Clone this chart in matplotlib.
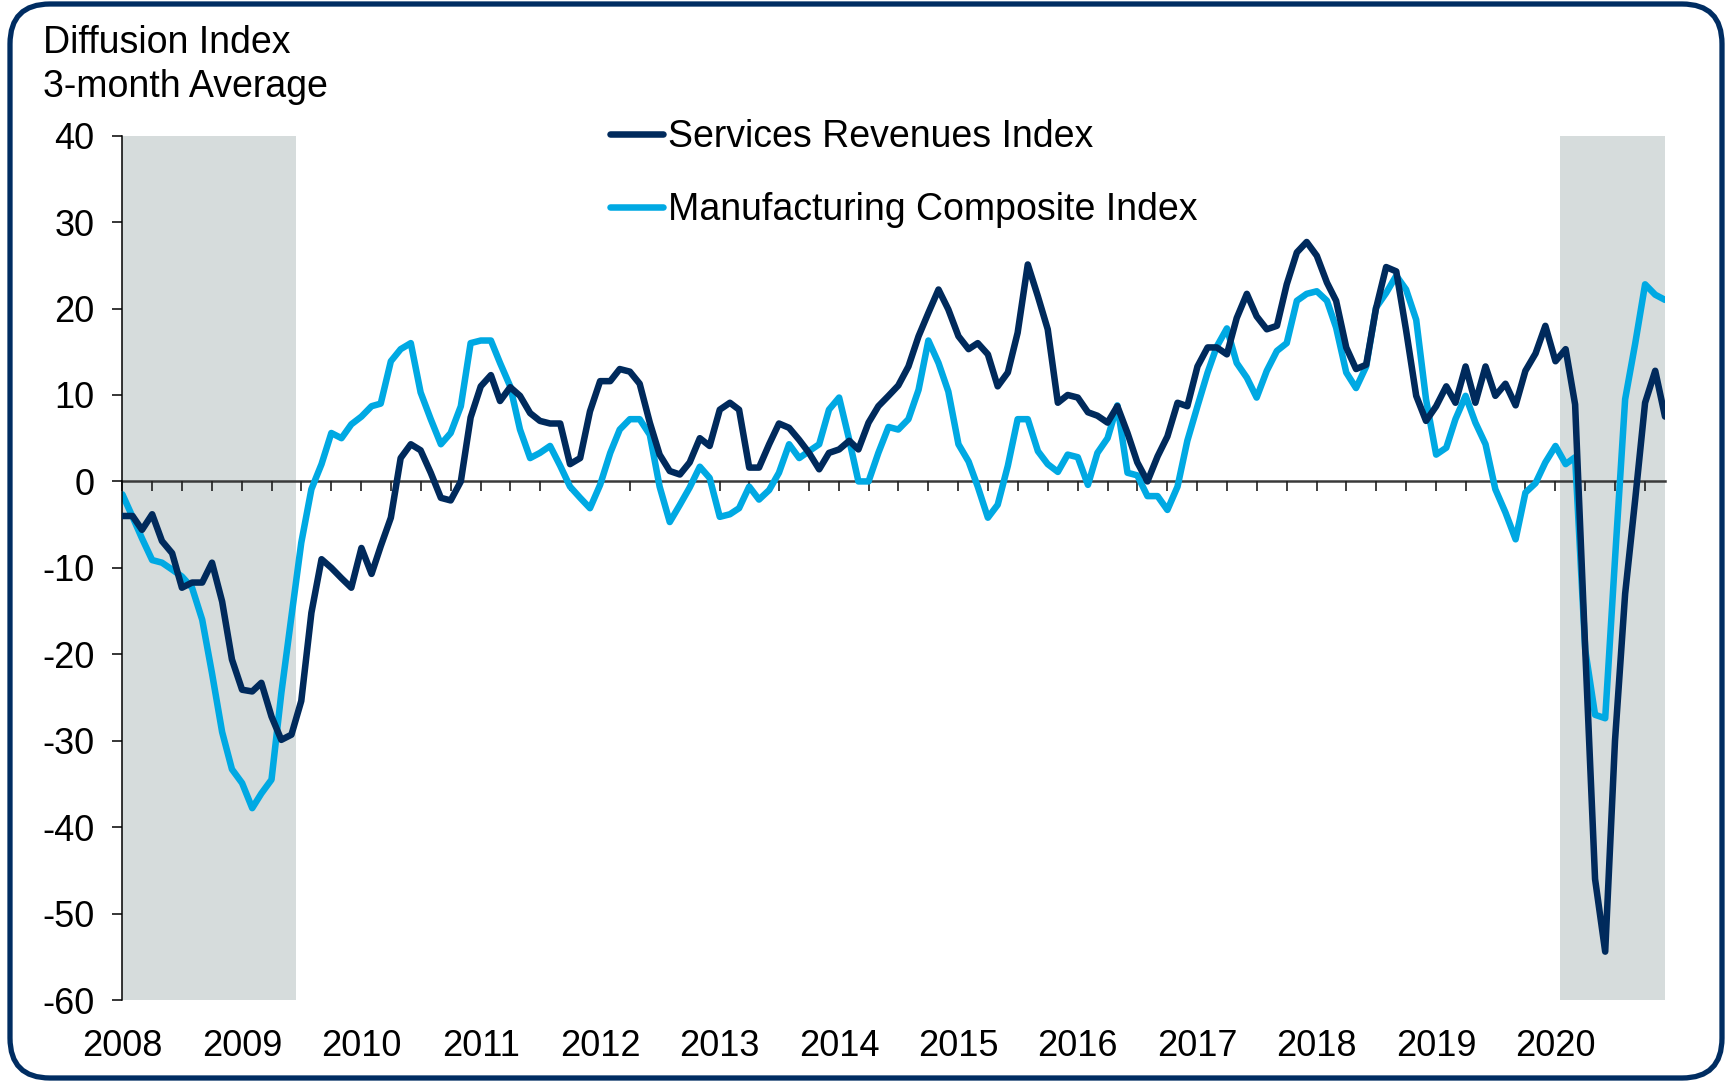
import numpy as np
import pandas as pd
import matplotlib
matplotlib.use("Agg")
import matplotlib.pyplot as plt
import matplotlib.dates as mdates
from matplotlib.patches import FancyBboxPatch
from matplotlib.transforms import IdentityTransform

plt.rcParams['font.family'] = ['Liberation Sans', 'DejaVu Sans']
plt.rcParams['axes.unicode_minus'] = False

## Data (3-month average diffusion indexes, Jan 2008 - Dec 2020)
months = pd.date_range("2008-01-01", "2020-12-01", freq="MS")

services = [
    -4.0, -4.0, -5.6, -3.8, -6.9, -8.3, -12.3, -11.7, -11.7, -9.4, -13.9, -20.6,
    -24.1, -24.3, -23.3, -27.2, -29.9, -29.3, -25.4, -15.2, -9.0, -10.0, -11.2, -12.3,
    -7.7, -10.7, -7.5, -4.2, 2.7, 4.3, 3.6, 1.0, -1.9, -2.2, 0.0, 7.4,
    11.0, 12.3, 9.3, 10.9, 9.9, 7.9, 7.0, 6.7, 6.7, 2.0, 2.7, 8.1,
    11.6, 11.6, 13.0, 12.7, 11.3, 6.8, 3.1, 1.2, 0.8, 2.2, 5.0, 4.1,
    8.3, 9.1, 8.3, 1.6, 1.6, 4.3, 6.7, 6.2, 4.8, 3.3, 1.4, 3.3,
    3.7, 4.7, 3.7, 6.8, 8.7, 9.9, 11.1, 13.3, 16.8, 19.5, 22.2, 19.9,
    16.8, 15.3, 16.0, 14.7, 11.0, 12.6, 17.2, 25.1, 21.4, 17.6, 9.1, 10.0,
    9.7, 8.0, 7.6, 6.8, 8.7, 5.6, 2.2, 0.0, 2.9, 5.2, 9.1, 8.7,
    13.3, 15.5, 15.5, 14.7, 18.9, 21.7, 19.1, 17.6, 18.0, 22.8, 26.5, 27.7,
    26.1, 23.0, 20.9, 15.5, 13.0, 13.5, 20.0, 24.8, 24.3, 17.5, 9.9, 7.0,
    8.7, 11.0, 9.1, 13.3, 9.1, 13.3, 9.9, 11.3, 8.8, 12.8, 14.8, 18.0,
    13.9, 15.3, 8.9, -19.5, -46.0, -54.4, -30.0, -13.0, -2.0, 9.1, 12.8, 7.5,
]

manufacturing = [
    -1.5, -4.1, -6.6, -9.1, -9.4, -10.2, -11.0, -12.3, -16.0, -22.2, -29.0, -33.3,
    -34.9, -37.8, -36.1, -34.5, -24.5, -15.6, -7.1, -0.9, 2.0, 5.6, 5.0, 6.6,
    7.5, 8.7, 9.0, 13.9, 15.3, 16.0, 10.3, 7.2, 4.3, 5.6, 8.7, 16.0,
    16.3, 16.3, 13.7, 11.0, 6.0, 2.7, 3.3, 4.1, 1.8, -0.6, -1.9, -3.1,
    -0.4, 3.3, 6.0, 7.2, 7.2, 5.4, -0.6, -4.7, -2.7, -0.7, 1.7, 0.4,
    -4.1, -3.8, -3.1, -0.6, -2.1, -1.0, 1.0, 4.3, 2.7, 3.5, 4.3, 8.3,
    9.7, 4.8, 0.0, 0.0, 3.3, 6.3, 6.0, 7.2, 10.6, 16.3, 13.7, 10.4,
    4.3, 2.3, -0.6, -4.2, -2.7, 1.8, 7.2, 7.2, 3.5, 2.0, 1.1, 3.1,
    2.8, -0.4, 3.3, 5.0, 8.8, 1.0, 0.7, -1.7, -1.7, -3.3, -0.6, 4.7,
    8.7, 12.6, 15.6, 17.7, 13.7, 12.0, 9.7, 12.8, 15.1, 16.0, 20.9, 21.7,
    22.0, 20.9, 17.8, 12.6, 10.8, 13.3, 20.1, 21.8, 23.8, 22.2, 18.7, 9.5,
    3.1, 3.9, 7.2, 9.9, 6.8, 4.3, -0.9, -3.6, -6.7, -1.3, -0.2, 2.2,
    4.1, 2.0, 2.8, -19.5, -27.0, -27.4, -9.0, 9.5, 16.0, 22.8, 21.6, 21.0,
]

# recession shading (monthly bars, half a month either side)
recessions = [("2007-11-16", "2009-06-16"), ("2020-01-16", "2021-01-16")]

years = list(range(2008, 2021))
yticks = list(range(-60, 41, 10))

navy = '#002A5C'
light = '#00A9E3'

fig = plt.figure(figsize=(17.29, 10.81), dpi=100)
ax = fig.add_axes([0.0708, 0.0749, 0.8922, 0.7996])

for start, end in recessions:
    ax.axvspan(pd.Timestamp(start), pd.Timestamp(end), color='#D6DCDC', lw=0, zorder=0)

line1, = ax.plot(months, services, color=navy, lw=4.7, solid_joinstyle='round',
                 solid_capstyle='round', zorder=3, label='Services Revenues Index')
line2, = ax.plot(months, manufacturing, color=light, lw=4.7, solid_joinstyle='round',
                 solid_capstyle='round', zorder=2, label='Manufacturing Composite Index')

ax.set_xlim(months[0], months[-1])
ax.set_ylim(-60, 40)
ax.set_yticks(yticks)
ax.tick_params(axis='y', direction='out', length=7.2, width=1.1, pad=13,
               labelsize=26, colors='black')

for s in ['top', 'right']:
    ax.spines[s].set_visible(False)
ax.spines['left'].set_linewidth(1.1)
ax.spines['left'].set_color('black')
ax.spines['bottom'].set_position(('data', 0))
ax.spines['bottom'].set_color('#3A3A3A')
ax.spines['bottom'].set_linewidth(1.8)
ax.spines['bottom'].set_zorder(1)

# quarterly ticks on the zero line, no labels there
ax.xaxis.set_major_locator(mdates.MonthLocator(bymonth=[1, 4, 7, 10]))
ax.tick_params(axis='x', direction='out', length=7, width=1.2, color='#202020',
               labelbottom=False)

# year labels at the bottom of the plot area
sec = ax.secondary_xaxis('bottom')
sec.spines['bottom'].set_visible(False)
sec.set_xticks(mdates.date2num([pd.Timestamp(f"{y}-01-01") for y in years]),
               labels=[str(y) for y in years])
sec.tick_params(axis='x', length=0, pad=20.5, labelsize=26)

ax.legend(handles=[line1, line2], loc='upper left',
          bbox_to_anchor=(610 / 1729, 1 - 119 / 1081), bbox_transform=fig.transFigure,
          frameon=False, fontsize=27, handlelength=1.4, handletextpad=0.15,
          labelspacing=1.0, borderpad=0, borderaxespad=0)

fig.text(43 / 1729, 1 - 53 / 1081, "Diffusion Index", fontsize=27, va='baseline')
fig.text(43 / 1729, 1 - 97 / 1081, "3-month Average", fontsize=27, va='baseline')

border = FancyBboxPatch((10, 3), 1712, 1074, boxstyle="round,pad=0,rounding_size=40",
                        transform=IdentityTransform(), fill=False,
                        edgecolor='#002D62', linewidth=3.8)
fig.add_artist(border)

fig.savefig("out.png", dpi=100)
